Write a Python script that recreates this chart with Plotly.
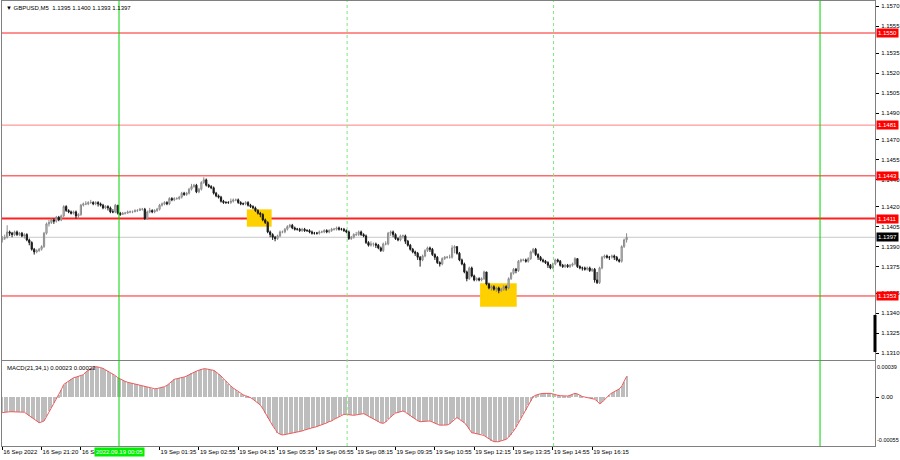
import plotly.graph_objects as go

# ---------------- data ----------------
BASE = 1.1300          # price base
PIP = 0.0001           # prices below are stored in pips above BASE

open_first = 95
close_pips = [
    96, 97, 101, 100, 99, 101, 99, 100, 98, 99,
    95, 93, 88, 86, 87, 88, 90, 100, 107, 108,
    110, 109, 112, 110, 113, 120, 117, 116, 115, 116,
    113, 114, 121, 122, 122, 123, 123, 122, 123, 122,
    121, 119, 120, 119, 116, 116, 121, 115, 114, 115,
    115, 116, 116, 116, 117, 117, 118, 118, 111, 116,
    117, 116, 117, 118, 121, 122, 123, 122, 126, 125,
    126, 126, 127, 130, 129, 130, 133, 135, 136, 131,
    133, 138, 140, 136, 135, 134, 130, 128, 127, 124,
    123, 123, 123, 124, 125, 125, 123, 122, 122, 123,
    121, 120, 119, 117, 115, 114, 110, 108, 101, 99,
    97, 96, 98, 101, 101, 103, 105, 106, 104, 103,
    103, 102, 103, 102, 102, 101, 100, 100, 100, 101,
    101, 102, 101, 102, 103, 103, 104, 103, 103, 102,
    101, 96, 97, 99, 99, 101, 99, 98, 93, 91,
    92, 92, 91, 89, 87, 92, 92, 100, 101, 99,
    96, 95, 98, 98, 94, 91, 88, 86, 85, 82,
    80, 83, 87, 89, 88, 84, 82, 78, 77, 81,
    82, 82, 82, 89, 90, 85, 80, 77, 71, 66,
    74, 68, 65, 66, 65, 66, 71, 62, 59, 60,
    58, 59, 57, 58, 60, 59, 66, 70, 73, 72,
    79, 80, 80, 79, 81, 86, 88, 84, 82, 80,
    79, 78, 76, 74, 77, 80, 79, 76, 75, 76,
    75, 76, 77, 81, 75, 74, 74, 73, 74, 72,
    73, 65, 63, 74, 82, 83, 82, 82, 83, 82,
    80, 79, 90, 95, 97,
]
high_pips = [
    98, 99, 106, 102, 101, 102, 102, 101, 101, 100,
    100, 96, 94, 89, 88, 89, 91, 101, 108, 110,
    111, 111, 113, 113, 114, 121, 121, 118, 117, 117,
    117, 115, 122, 123, 124, 124, 125, 124, 124, 124,
    123, 122, 121, 121, 120, 118, 122, 121, 116, 116,
    116, 117, 117, 117, 118, 118, 119, 119, 119, 117,
    119, 118, 118, 119, 122, 123, 124, 124, 127, 127,
    127, 127, 128, 131, 131, 131, 134, 137, 137, 137,
    134, 139, 142, 141, 137, 136, 135, 131, 129, 128,
    125, 124, 124, 126, 126, 126, 126, 124, 123, 124,
    124, 122, 121, 120, 118, 116, 115, 111, 109, 102,
    100, 98, 99, 102, 102, 104, 106, 107, 107, 105,
    104, 104, 104, 104, 103, 103, 102, 101, 101, 102,
    102, 103, 103, 103, 104, 104, 105, 105, 104, 104,
    103, 102, 98, 100, 101, 102, 102, 100, 99, 94,
    94, 93, 93, 92, 90, 93, 94, 101, 102, 102,
    100, 97, 99, 99, 99, 95, 92, 89, 87, 86,
    83, 84, 88, 90, 90, 89, 85, 83, 79, 82,
    83, 83, 84, 91, 91, 90, 86, 81, 78, 72,
    75, 75, 69, 67, 67, 67, 72, 71, 63, 61,
    61, 60, 60, 59, 61, 61, 67, 71, 74, 74,
    80, 81, 81, 81, 82, 87, 89, 89, 85, 83,
    81, 80, 79, 77, 78, 81, 81, 80, 77, 77,
    77, 77, 78, 82, 81, 76, 75, 75, 75, 75,
    74, 74, 71, 75, 83, 84, 84, 83, 84, 84,
    83, 81, 91, 96, 100,
]
low_pips = [
    93, 95, 96, 98, 97, 98, 98, 98, 97, 96,
    94, 91, 87, 84, 85, 86, 87, 89, 99, 105,
    107, 107, 108, 109, 109, 112, 116, 115, 114, 114,
    111, 111, 113, 120, 121, 121, 122, 121, 121, 120,
    120, 118, 118, 117, 115, 115, 115, 114, 113, 114,
    114, 115, 115, 115, 116, 116, 117, 117, 110, 110,
    115, 115, 115, 116, 117, 120, 121, 121, 121, 124,
    124, 125, 125, 126, 128, 128, 129, 132, 134, 130,
    130, 132, 137, 135, 134, 133, 129, 127, 126, 123,
    122, 122, 122, 122, 123, 124, 122, 121, 121, 121,
    120, 119, 118, 116, 114, 112, 109, 107, 100, 97,
    95, 94, 95, 97, 100, 100, 102, 104, 103, 102,
    102, 101, 101, 101, 101, 100, 99, 99, 99, 99,
    100, 100, 100, 100, 101, 102, 102, 102, 102, 101,
    100, 95, 95, 96, 98, 98, 98, 97, 92, 90,
    90, 90, 89, 88, 86, 86, 91, 91, 98, 97,
    95, 94, 94, 96, 92, 90, 87, 85, 83, 80,
    75, 79, 82, 86, 86, 83, 80, 77, 75, 76,
    80, 81, 81, 81, 85, 84, 79, 76, 70, 64,
    65, 67, 64, 64, 64, 64, 65, 61, 58, 57,
    57, 56, 55, 56, 57, 57, 58, 65, 69, 70,
    71, 78, 79, 78, 78, 80, 85, 83, 80, 79,
    78, 77, 74, 73, 73, 76, 78, 75, 74, 74,
    74, 74, 75, 76, 74, 73, 72, 72, 72, 71,
    71, 63, 62, 62, 73, 81, 81, 80, 81, 80,
    79, 78, 78, 89, 93,
]
# MACD(21,34,1) main values, in units of 1e-5 (signal period 1 => signal == main)
macd_e5 = [
    -17.5, -17, -17, -16.5, -16.5, -16.5, -16.5, -16.5, -16.5, -17,
    -19, -21, -23, -25, -27, -28.7, -28, -26.8, -22, -16,
    -12, -7, -2, 2, 8, 14, 16, 18, 20, 21.6,
    22.3, 23, 23.5, 25, 28, 30, 31.5, 33, 34, 33.8,
    33, 32, 30.5, 29, 27, 25.5, 24, 21.6, 20, 18.5,
    17.5, 16.5, 15.8, 15.2, 15, 14.3, 13.5, 12.8, 12.3, 11.5,
    10.5, 9.5, 9.3, 9.5, 10, 10.8, 11.6, 13, 15, 17.5,
    19.8, 20.5, 21, 21.6, 22.4, 23.5, 25, 26.5, 28.3, 29,
    30, 31, 31.7, 31.5, 31, 30.5, 29.8, 28, 26, 23.5,
    20.5, 17.5, 15, 12.3, 10, 8, 5.5, 3.7, 2.5, 1.5,
    0.5, -0.7, -2.5, -4.5, -6.3, -9, -13, -18, -23, -27,
    -32, -36, -40, -41.5, -42.5, -42, -41.5, -41, -40.5, -40,
    -39, -38.5, -38, -37, -36, -35.5, -34.5, -34, -33, -32,
    -31.5, -30.5, -29, -27.5, -26.8, -25, -23.5, -22, -20.5, -19.4,
    -19.5, -20, -20.5, -20.5, -20, -19.5, -19, -18.6, -20, -21.5,
    -23, -24.5, -26, -27.5, -29, -29.5, -28, -25, -22, -20,
    -18, -17.5, -16.5, -15.7, -17, -19, -21.3, -23, -25, -26.5,
    -27.6, -27.5, -27.2, -27, -26.8, -28, -29.5, -30.5, -31.5, -31.7,
    -31.5, -31.3, -30, -28, -25, -23, -25, -27, -28.7, -32,
    -36, -40, -40.5, -41, -41.5, -41.8, -43, -45, -47, -49,
    -50, -50, -50, -49, -48, -47.4, -45, -42, -38, -34,
    -29, -24, -19.4, -14, -9, -4.5, 0.4, 2, 3, 3.7,
    4, 4.2, 4.1, 4.1, 3.5, 2.5, 1.9, 1.5, 1.2, 1.1,
    1.1, 2, 3, 4.1, 3.5, 2, 0.5, 0, -0.5, -1,
    -1.5, -2.5, -4.5, -7.5, -6, -3, 0, 2.5, 4.5, 6,
    7.5, 9, 12, 17, 23,
]

time_tick_bars = [0, 16, 32, 64, 80, 96, 112, 128, 144, 160, 176, 192, 208, 224, 240]
time_tick_labels = ["16 Sep 2022", "16 Sep 21:20", "16 Sep 22:40", "19 Sep 01:35", "19 Sep 02:55",
                    "19 Sep 04:15", "19 Sep 05:35", "19 Sep 06:55", "19 Sep 08:15", "19 Sep 09:35",
                    "19 Sep 10:55", "19 Sep 12:15", "19 Sep 13:35", "19 Sep 14:55", "19 Sep 16:15"]
price_ticks = [1.1570, 1.1555, 1.1535, 1.1520, 1.1505, 1.1490, 1.1470, 1.1455, 1.1440,
               1.1420, 1.1405, 1.1390, 1.1375, 1.1355, 1.1340, 1.1325, 1.1310]
levels = [1.1550, 1.1481, 1.1443, 1.1411, 1.1353]
bid_price = 1.1397
day_line_bars = [47.5, 332.7]          # solid green separators
session_line_bars = [140.3, 224.3]     # dotted green lines
day_label = "2022.09.19 00:05"
signal_boxes = [(99.5, 109.6, 1.14049, 1.14179), (194.4, 209.3, 1.13450, 1.13625)]
title_text = "\u25bc GBPUSD,M5  1.1395 1.1400 1.1393 1.1397"
macd_text = "MACD(21,34,1) 0.00023 0.00023"
macd_scale_labels = ["0.00039", "-0.00055"]

# ---------------- build ----------------
n = len(close_pips)
idx = list(range(n))
closes = [BASE + c * PIP for c in close_pips]
opens = [BASE + open_first * PIP] + closes[:-1]
highs = [BASE + h * PIP for h in high_pips]
lows = [BASE + l * PIP for l in low_pips]
macd = [v * 1e-5 for v in macd_e5]

FONT = "Liberation Sans, Arial, sans-serif"
FRAME = "#808080"

fig = go.Figure()
fig.add_trace(go.Candlestick(
    x=idx, open=opens, high=highs, low=lows, close=closes,
    increasing=dict(line=dict(color="#8c8c8c", width=1), fillcolor="#d0d0d0"),
    decreasing=dict(line=dict(color="#1a1a1a", width=1), fillcolor="#1a1a1a"),
    whiskerwidth=0, xaxis="x", yaxis="y", hoverinfo="skip", showlegend=False))
fig.add_trace(go.Bar(x=idx, y=macd, width=0.45, marker=dict(color="#bdbdbd", line=dict(width=0)),
                     xaxis="x2", yaxis="y2", showlegend=False, hoverinfo="skip"))
fig.add_trace(go.Scatter(x=idx, y=macd, mode="lines", line=dict(color="#f25a5a", width=1),
                         xaxis="x2", yaxis="y2", showlegend=False, hoverinfo="skip"))

shapes = []
for (x0, x1, y0, y1) in signal_boxes:
    shapes.append(dict(type="rect", xref="x", yref="y", x0=x0, x1=x1, y0=y0, y1=y1,
                       fillcolor="#ffd000", line=dict(width=0), layer="below"))
shapes.append(dict(type="line", xref="paper", yref="y", x0=0, x1=1, y0=bid_price, y1=bid_price,
                   line=dict(color="#c8c8c8", width=1), layer="below"))
for lv in levels:
    w = 2 if abs(lv - 1.1411) < 1e-9 else 1
    col = "#ff8080" if abs(lv - 1.1481) < 1e-9 else "#ff2020"
    shapes.append(dict(type="line", xref="paper", yref="y", x0=0, x1=1, y0=lv, y1=lv,
                       line=dict(color=col, width=w), layer="below"))
for b in day_line_bars:
    shapes.append(dict(type="line", xref="x", yref="paper", x0=b, x1=b, y0=0, y1=1,
                       line=dict(color="#00d400", width=1)))
for b in session_line_bars:
    shapes.append(dict(type="line", xref="x", yref="paper", x0=b, x1=b, y0=0, y1=1,
                       line=dict(color="#7be87b", width=1, dash="dot")))
# thick marker on the price axis
shapes.append(dict(type="line", xref="paper", yref="y", x0=1, x1=1, y0=1.13388, y1=1.13110,
                   line=dict(color="#000000", width=3)))

annotations = []
for lv in levels:
    annotations.append(dict(xref="paper", yref="y", x=1, y=lv, xanchor="left", yanchor="middle",
                            xshift=1, text="%.4f" % lv, showarrow=False, bgcolor="#ff0000",
                            font=dict(family=FONT, size=6, color="white"), borderpad=1))
annotations.append(dict(xref="paper", yref="y", x=1, y=bid_price, xanchor="left", yanchor="middle",
                        xshift=1, text="%.4f" % bid_price, showarrow=False, bgcolor="#000000",
                        font=dict(family=FONT, size=6, color="white"), borderpad=1))
annotations.append(dict(xref="paper", yref="paper", x=0, y=1, xanchor="left", yanchor="top",
                        xshift=2, yshift=-2, text=title_text, showarrow=False,
                        font=dict(family=FONT, size=6, color="black")))
annotations.append(dict(xref="paper", yref="paper", x=0, y=0.191, xanchor="left", yanchor="top",
                        xshift=3, yshift=-2, text=macd_text, showarrow=False,
                        font=dict(family=FONT, size=6, color="black")))
annotations.append(dict(xref="x2", yref="paper", x=day_line_bars[0], y=0, xanchor="center", yanchor="top",
                        yshift=-1, text=day_label, showarrow=False, bgcolor="#00ee00",
                        font=dict(family=FONT, size=6, color="white"), borderpad=1))
# MACD window scale labels (max near top, min near bottom of the sub-window)
annotations.append(dict(xref="paper", yref="paper", x=1, y=0.191, xanchor="left", yanchor="top",
                        xshift=0, yshift=-1, text=macd_scale_labels[0], showarrow=False,
                        font=dict(family=FONT, size=5.5, color="black")))
annotations.append(dict(xref="paper", yref="paper", x=1, y=0, xanchor="left", yanchor="bottom",
                        xshift=0, yshift=1, text=macd_scale_labels[1], showarrow=False,
                        font=dict(family=FONT, size=5.5, color="black")))

x_range = [-0.1, 355.06]
fig.update_layout(
    width=900, height=460, margin=dict(l=2, r=25, t=1, b=14, autoexpand=False),
    paper_bgcolor="white", plot_bgcolor="white", bargap=0,
    showlegend=False, shapes=shapes, annotations=annotations,
    xaxis=dict(domain=[0, 1], range=x_range, anchor="y", showticklabels=False, ticks="",
               showgrid=False, zeroline=False, showline=True, mirror=True, linecolor=FRAME,
               linewidth=1, rangeslider=dict(visible=False), automargin=False),
    yaxis=dict(domain=[0.1933, 1], range=[1.130506, 1.157397], side="right", anchor="x",
               tickvals=price_ticks, ticktext=["%.4f" % t for t in price_ticks],
               ticks="outside", ticklen=3, tickcolor="#000", showgrid=False, zeroline=False,
               showline=True, mirror=True, linecolor=FRAME, linewidth=1, automargin=False,
               ticklabelstandoff=1,
               tickfont=dict(family=FONT, size=6, color="black")),
    xaxis2=dict(domain=[0, 1], range=x_range, anchor="y2", tickvals=time_tick_bars,
                ticktext=time_tick_labels, ticks="outside", ticklen=3, tickcolor="#000",
                ticklabelposition="outside right", tickangle=0, showgrid=False, zeroline=False,
                showline=True, mirror=True, linecolor=FRAME, linewidth=1, automargin=False,
                ticklabelstandoff=0,
                tickfont=dict(family=FONT, size=6, color="black")),
    yaxis2=dict(domain=[0, 0.191], range=[-0.000548, 0.000403], side="right", anchor="x2",
                tickvals=[0], ticktext=["0.00"], ticks="outside", ticklen=3, tickcolor="#000",
                showgrid=False, zeroline=False, showline=True, mirror=True, linecolor=FRAME,
                linewidth=1, automargin=False, ticklabelstandoff=1,
                tickfont=dict(family=FONT, size=6, color="black")),
)

fig.write_html("out.html", config={"displayModeBar": False},
               post_script="document.body.style.margin='0';document.body.style.overflow='hidden';")
